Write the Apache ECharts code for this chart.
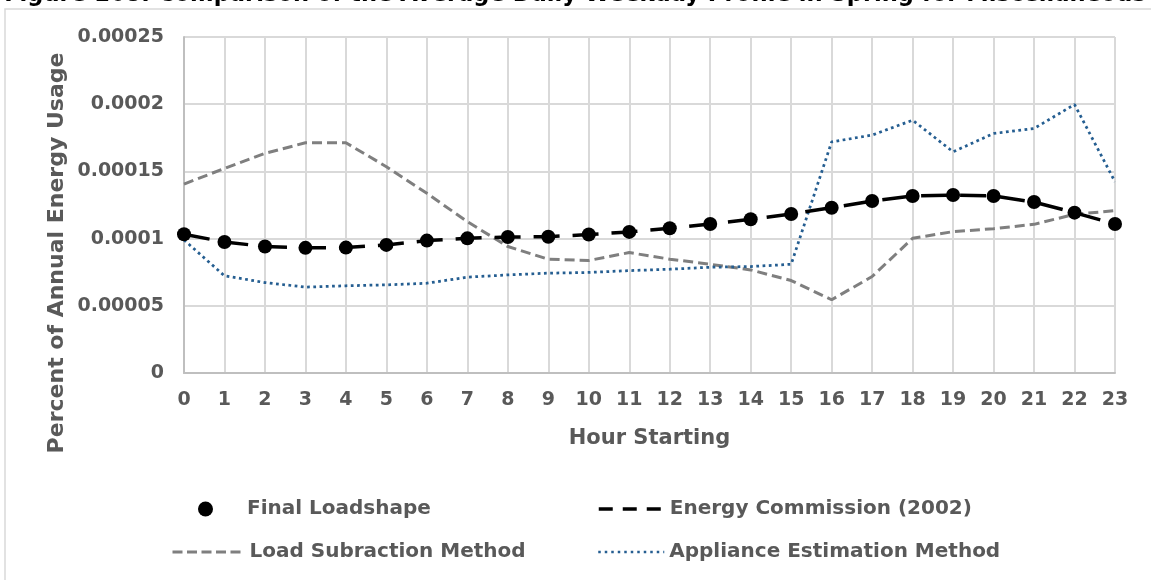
<!DOCTYPE html>
<html><head><meta charset="utf-8">
<script src="https://cdn.jsdelivr.net/npm/echarts@6/dist/echarts.min.js"></script>
<style>html,body{margin:0;padding:0;background:#fff}#c{width:1151px;height:580px}</style>
</head><body><div id="c"></div>
<script>
const hours = ['0','1','2','3','4','5','6','7','8','9','10','11','12','13','14','15','16','17','18','19','20','21','22','23'];
const yTickLabels = ['0','0.00005','0.0001','0.00015','0.0002','0.00025'];
const finalLoadshape = [0.0001032,0.0000975,0.0000941,0.0000931,0.0000933,0.0000953,0.0000985,0.0001002,0.0001012,0.0001014,0.000103,0.000105,0.0001077,0.0001109,0.0001144,0.0001183,0.000123,0.000128,0.0001317,0.0001324,0.0001317,0.0001272,0.0001193,0.0001109];
const energyCommission2002 = [0.0001032,0.0000975,0.0000941,0.0000931,0.0000933,0.0000953,0.0000985,0.0001002,0.0001012,0.0001014,0.000103,0.000105,0.0001077,0.0001109,0.0001144,0.0001183,0.000123,0.000128,0.0001317,0.0001324,0.0001317,0.0001272,0.0001193,0.0001109];
const loadSubtraction = [0.0001406,0.0001522,0.0001634,0.0001713,0.0001713,0.0001535,0.0001337,0.0001126,0.0000941,0.0000847,0.0000837,0.0000896,0.0000847,0.0000809,0.0000767,0.0000688,0.0000545,0.0000718,0.0001002,0.0001052,0.0001074,0.0001106,0.0001181,0.0001208];
const applianceEstimation = [0.000099,0.0000723,0.0000673,0.0000639,0.0000649,0.0000656,0.0000668,0.0000713,0.000073,0.0000743,0.0000748,0.0000762,0.0000772,0.0000787,0.0000792,0.0000809,0.000172,0.000177,0.0001881,0.0001646,0.0001782,0.0001819,0.0001998,0.0001423];
const titleText = 'Figure 168: Comparison of the Average Daily Weekday Profile in Spring for Miscellaneous';
const yAxisTitle = 'Percent of Annual Energy Usage';
const xAxisTitle = 'Hour Starting';
const seriesNames = ['Final Loadshape','Energy Commission (2002)','Load Subraction Method','Appliance Estimation Method'];

const FONT = 'DejaVu Sans';
const GREY_TEXT = '#595959';
const legendText = {fontFamily: FONT, fontWeight: 'bold', fontSize: 20, color: GREY_TEXT};

const chart = echarts.init(document.getElementById('c'), null, {renderer: 'canvas'});
chart.setOption({
  animation: false,
  backgroundColor: '#ffffff',
  graphic: [
    {type: 'rect', shape: {x: 5, y: 9, width: 1300, height: 700}, style: {fill: 'none', stroke: '#d9d9d9', lineWidth: 1.5}, silent: true},
    {type: 'text', x: 575, y: 7, style: {text: titleText, align: 'center', verticalAlign: 'bottom', fontFamily: FONT, fontWeight: 'bold', fontSize: 22.6, fill: '#000000'}},
    {type: 'text', x: 57, y: 253, rotation: Math.PI / 2, style: {text: yAxisTitle, align: 'center', verticalAlign: 'middle', fontFamily: FONT, fontWeight: 'bold', fontSize: 22, fill: GREY_TEXT}}
  ],
  grid: {left: 184, right: 36, top: 37, bottom: 207, containLabel: false},
  xAxis: {
    type: 'category', data: hours, boundaryGap: false,
    axisLine: {lineStyle: {color: '#bfbfbf', width: 2}},
    axisTick: {show: false},
    axisLabel: {margin: 18, fontFamily: FONT, fontWeight: 'bold', fontSize: 19, color: GREY_TEXT, interval: 0},
    splitLine: {show: true, lineStyle: {color: '#d9d9d9', width: 2}},
    name: xAxisTitle, nameLocation: 'middle', nameGap: 55,
    nameTextStyle: {fontFamily: FONT, fontWeight: 'bold', fontSize: 21, color: GREY_TEXT}
  },
  yAxis: {
    type: 'value', min: 0, max: 0.00025, interval: 0.00005,
    axisLine: {show: true, lineStyle: {color: '#bfbfbf', width: 2}},
    axisTick: {show: false},
    axisLabel: {margin: 20, fontFamily: FONT, fontWeight: 'bold', fontSize: 19, color: GREY_TEXT,
      formatter: v => yTickLabels[Math.round(v / 0.00005)]},
    splitLine: {show: true, lineStyle: {color: '#d9d9d9', width: 2}}
  },
  legend: [
    {data: [{name: seriesNames[0], icon: 'circle'}], left: 198, top: 499, padding: 0, itemWidth: 15, itemHeight: 15, selectedMode: false,
      itemStyle: {color: '#000000', opacity: 1},
      textStyle: Object.assign({}, legendText, {padding: [0, 0, 0, 29]})},
    {data: [seriesNames[1]], left: 597, top: 499, padding: 0, itemWidth: 66, itemHeight: 14, selectedMode: false, textStyle: legendText,
      itemStyle: {opacity: 0}, lineStyle: {type: [14, 10], width: 3.5, color: '#000000'}},
    {data: [seriesNames[2]], left: 171, top: 542, padding: 0, itemWidth: 72, itemHeight: 14, selectedMode: false, textStyle: legendText,
      itemStyle: {opacity: 0}, lineStyle: {type: [10, 4.5], width: 3, color: '#7f7f7f'}},
    {data: [seriesNames[3]], left: 597, top: 542, padding: 0, itemWidth: 66, itemHeight: 14, selectedMode: false, textStyle: legendText,
      itemStyle: {opacity: 0}, lineStyle: {type: [2.5, 4], width: 2.5, color: '#255e91'}}
  ],
  series: [
    {name: seriesNames[2], type: 'line', data: loadSubtraction, symbol: 'none', z: 2,
      lineStyle: {color: '#7f7f7f', width: 3, type: [10, 5]}, itemStyle: {color: '#7f7f7f'}},
    {name: seriesNames[3], type: 'line', data: applianceEstimation, symbol: 'none', z: 3,
      lineStyle: {color: '#255e91', width: 2.75, type: [2.75, 3.5]}, itemStyle: {color: '#255e91'}},
    {name: seriesNames[1], type: 'line', data: energyCommission2002, symbol: 'none', z: 4,
      lineStyle: {color: '#000000', width: 3.5, type: [26, 13]}, itemStyle: {color: '#000000'}},
    {name: seriesNames[0], type: 'scatter', data: finalLoadshape, symbol: 'circle', symbolSize: 14, z: 5,
      itemStyle: {color: '#000000', opacity: 1}}
  ]
});
</script></body></html>
